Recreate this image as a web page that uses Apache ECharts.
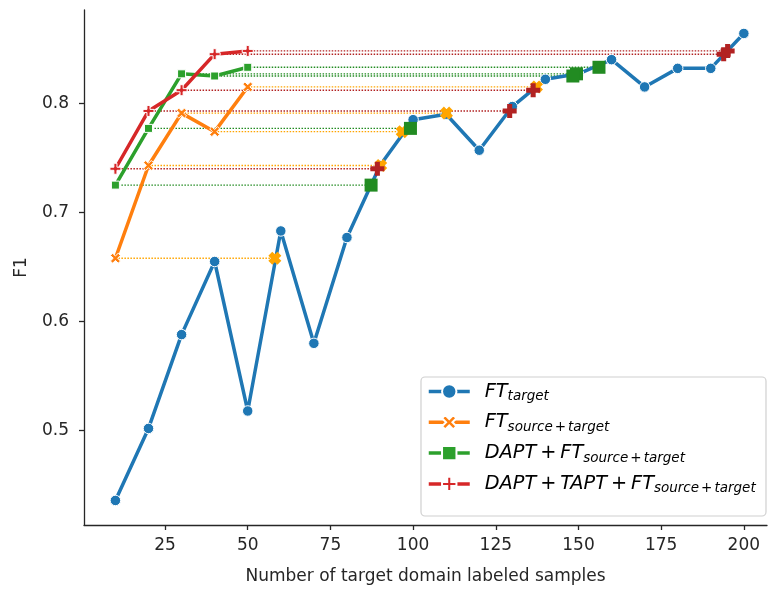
<!DOCTYPE html>
<html>
<head>
<meta charset="utf-8">
<script src="https://cdn.jsdelivr.net/npm/echarts@6/dist/echarts.min.js"></script>
<style>
  html, body { margin: 0; padding: 0; background: #fff; }
  #chart { width: 768px; height: 589px; }
</style>
</head>
<body>
<div id="chart"></div>
<script>
// number of target domain labeled samples
const samples = [10, 20, 30, 40, 50, 60, 70, 80, 90, 100, 110, 120, 130, 140, 150, 160, 170, 180, 190, 200];
const ftTarget = [0.436, 0.502, 0.588, 0.655, 0.518, 0.683, 0.580, 0.677, 0.743, 0.785,
                  0.790, 0.757, 0.797, 0.822, 0.827, 0.840, 0.815, 0.832, 0.832, 0.864];

const fewSamples = [10, 20, 30, 40, 50];
const ftSource = [0.658, 0.743, 0.791, 0.774, 0.815];
const daptFt = [0.725, 0.777, 0.827, 0.825, 0.833];
const daptTaptFt = [0.740, 0.793, 0.812, 0.845, 0.848];

// sample count where FT_target reaches the same F1
const ftSourceMatch = [58.2, 90.2, 110.1, 96.7, 137.3];
const daptFtMatch = [87.3, 99.2, 149.4, 148.3, 156.2];
const daptTaptFtMatch = [89.2, 129.2, 136.3, 193.9, 195.1];

const xTicks = [25, 50, 75, 100, 125, 150, 175, 200];
const yTicks = [0.5, 0.6, 0.7, 0.8];

const FONT = "DejaVu Sans";
const TEXT = "#262626";

const thinX = "path://M2.2,0L5,2.8L7.8,0L10,2.2L7.2,5L10,7.8L7.8,10L5,7.2L2.2,10L0,7.8L2.8,5L0,2.2Z";
const fatX = "path://M3,0L5,2L7,0L10,3L8,5L10,7L7,10L5,8L3,10L0,7L2,5L0,3Z";
const thinPlus = "path://M3.6,0H6.4V3.6H10V6.4H6.4V10H3.6V6.4H0V3.6H3.6Z";
const fatPlus = "path://M3.2,0H6.8V3.2H10V6.8H6.8V10H3.2V6.8H0V3.2H3.2Z";

const zip = (xs, ys) => xs.map((x, i) => [x, ys[i]]);

function mainLine(name, color, xs, ys, symbol, size) {
  return {
    name: name, type: "line", data: zip(xs, ys), z: 3,
    symbol: symbol, symbolSize: size,
    lineStyle: { color: color, width: 3.5 },
    itemStyle: { color: color, borderColor: "#fff", borderWidth: 1 },
    emphasis: { disabled: true },
  };
}

// dotted guides + big markers on the FT_target curve
function matchSeries(key, color, ys, hits, symbol, size) {
  const out = [];
  ys.forEach((v, i) => {
    out.push({
      name: key + "-guide-" + i, type: "line", z: 2,
      data: [[fewSamples[i], v], [hits[i], v]],
      symbol: "none",
      lineStyle: { color: color, width: 1.4, type: [1.5, 1.5] },
      silent: true,
    });
  });
  out.push({
    name: key + "-match", type: "scatter", z: 5,
    data: zip(hits, ys),
    symbol: symbol, symbolSize: size,
    itemStyle: { color: color, opacity: 1 },
    silent: true,
  });
  return out;
}

const names = ["FT_target", "FT_source+target", "DAPT+FT_source+target", "DAPT+TAPT+FT_source+target"];
const legendText = {
  "FT_target": "{g|}{m|FT}{s|target}",
  "FT_source+target": "{g|}{m|FT}{s|source}{sp|+}{s|target}",
  "DAPT+FT_source+target": "{g|}{m|DAPT}{p|+}{m|FT}{s|source}{sp|+}{s|target}",
  "DAPT+TAPT+FT_source+target": "{g|}{m|DAPT}{p|+}{m|TAPT}{p|+}{m|FT}{s|source}{sp|+}{s|target}",
};

const chart = echarts.init(document.getElementById("chart"));

chart.setOption({
  animation: false,
  textStyle: { fontFamily: FONT },
  grid: { left: 84, right: 1, top: 10, bottom: 64, containLabel: false, outerBoundsMode: "none" },
  xAxis: {
    type: "value", min: 0.5, max: 207,
    name: "Number of target domain labeled samples",
    nameLocation: "middle", nameGap: 43,
    nameTextStyle: { fontSize: 17, color: TEXT, fontFamily: FONT },
    axisLine: { lineStyle: { color: TEXT, width: 1.3 } },
    axisTick: { show: true, length: 5, lineStyle: { color: TEXT, width: 1.3 }, customValues: xTicks },
    axisLabel: { fontSize: 17, color: TEXT, margin: 12, customValues: xTicks, formatter: v => String(v) },
    splitLine: { show: false },
  },
  yAxis: {
    type: "value", min: 0.4135, max: 0.8855,
    name: "F1", nameLocation: "middle", nameGap: 54, nameRotate: 90,
    nameTextStyle: { fontSize: 17, color: TEXT, fontFamily: FONT },
    axisLine: { show: true, lineStyle: { color: TEXT, width: 1.3 } },
    axisTick: { show: true, length: 5, lineStyle: { color: TEXT, width: 1.3 }, customValues: yTicks },
    axisLabel: { fontSize: 17, color: TEXT, margin: 15, customValues: yTicks, formatter: v => v.toFixed(1) },
    splitLine: { show: false },
  },
  graphic: [{
    type: "rect", z: 3, silent: true,
    shape: { x: 421, y: 377, width: 345, height: 139, r: 4 },
    style: { fill: "rgba(255,255,255,0.85)", stroke: "#d0d0d0", lineWidth: 1.2 },
  }],
  legend: {
    data: names, orient: "vertical", left: 427, top: 382, padding: 0, z: 5,
    itemWidth: 41, itemHeight: 18, itemGap: 9.3,
    lineStyle: { width: 3.5 },
    formatter: name => legendText[name],
    textStyle: {
      color: "#000",
      rich: {
        g: { width: 10 },
        m: { fontSize: 19.3, fontStyle: "italic", fontFamily: FONT, lineHeight: 24, color: "#000" },
        p: { fontSize: 19.3, fontFamily: FONT, lineHeight: 24, color: "#000", padding: [0, 4, 0, 4] },
        s: { fontSize: 13.5, fontStyle: "italic", fontFamily: FONT, lineHeight: 17, verticalAlign: "bottom", color: "#000" },
        sp: { fontSize: 13.5, fontFamily: FONT, lineHeight: 17, verticalAlign: "bottom", color: "#000", padding: [0, 2, 0, 2] },
      },
    },
  },
  series: [
    mainLine(names[0], "#1f77b4", samples, ftTarget, "circle", 10.5),
    mainLine(names[1], "#ff7f0e", fewSamples, ftSource, thinX, 10),
    mainLine(names[2], "#2ca02c", fewSamples, daptFt, "rect", 8),
    mainLine(names[3], "#d62728", fewSamples, daptTaptFt, thinPlus, 11),
    ...matchSeries("ft", "#ffa500", ftSource, ftSourceMatch, fatX, 13),
    ...matchSeries("dapt", "#228b22", daptFt, daptFtMatch, "rect", 13),
    ...matchSeries("tapt", "#b22222", daptTaptFt, daptTaptFtMatch, fatPlus, 14),
  ],
});
</script>
</body>
</html>
